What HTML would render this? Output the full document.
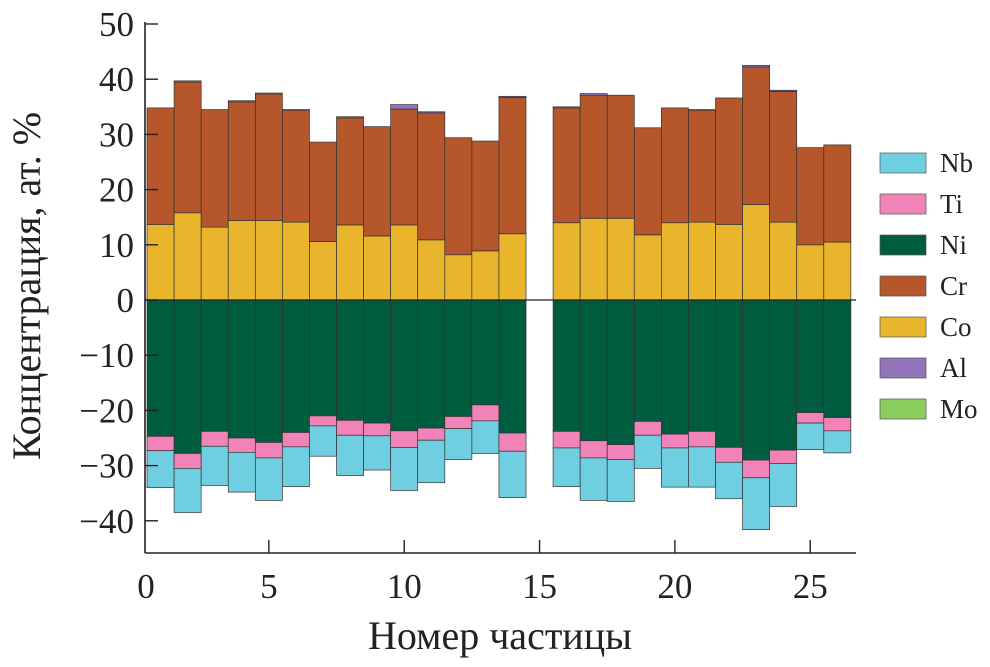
<!DOCTYPE html>
<html><head><meta charset="utf-8"><style>
body{margin:0;background:#fff}
svg text{font-family:"Liberation Serif",serif;fill:#222}
</style></head><body>
<svg id="c" width="990" height="662"></svg>
<script>
const particles=[1,2,3,4,5,6,7,8,9,10,11,12,13,14,16,17,18,19,20,21,22,23,24,25,26];
const co=[13.7,15.8,13.2,14.4,14.4,14.1,10.6,13.6,11.6,13.6,10.9,8.2,8.9,12,14,14.8,14.8,11.8,14,14.1,13.7,17.3,14.1,10,10.5];
const cr=[21.1,23.7,21.3,21.5,22.9,20.3,18,19.4,19.8,21,23,21.2,19.9,24.7,20.8,22.3,22.3,19.4,20.8,20.3,22.9,24.9,23.7,17.6,17.6];
const al=[0,0.2,0,0.2,0.2,0.1,0,0.2,0,0.8,0.2,0,0,0.2,0.2,0.3,0,0,0,0.1,0,0.3,0.2,0,0];
const ni=[24.7,27.8,23.8,25,25.8,24,21,21.8,22.3,23.7,23.2,21.1,19,24.1,23.8,25.5,26.2,22,24.3,23.8,26.7,29,27.2,20.4,21.3];
const ti=[2.6,2.7,2.7,2.6,2.8,2.6,1.8,2.7,2.3,3,2.2,2.2,2.9,3.3,3,3.1,2.7,2.5,2.5,2.8,2.7,3.2,2.4,1.9,2.4];
const nb=[6.7,8,7.1,7.2,7.7,7.2,5.5,7.3,6.2,7.8,7.7,5.6,5.9,8.4,7,7.7,7.6,6,7.1,7.3,6.6,9.4,7.8,4.8,4];
const yTicks=[50,40,30,20,10,0,-10,-20,-30,-40];
const xTicks=[0,5,10,15,20,25];
const legendNames=["Nb","Ti","Ni","Cr","Co","Al","Mo"];
const colors={Nb:"#6fcfe0",Ti:"#f283b8",Ni:"#005c3f",Cr:"#b5562b",Co:"#e9b52c",Al:"#9373b9",Mo:"#8ccd5f"};
const NS="http://www.w3.org/2000/svg";
const svg=document.getElementById('c');
const X=v=>133.5+v*27.07;
const Y=v=>300-v*5.52;
function el(t,a,p){const e=document.createElementNS(NS,t);for(const k in a)e.setAttribute(k,a[k]);(p||svg).appendChild(e);return e;}
function rect(k,y0,y1,c,name){
  const r=el('rect',{x:X(particles[k]-0.5),y:Math.min(Y(y0),Y(y1)),width:X(1)-X(0),height:Math.abs(Y(y0)-Y(y1)),fill:c,stroke:"#333","stroke-width":0.7});
  
  
}
particles.forEach((p,k)=>{
  rect(k,0,co[k],colors.Co,'bar-co-'+p);
  rect(k,co[k],co[k]+cr[k],colors.Cr,'bar-cr-'+p);
  if(al[k]>0)rect(k,co[k]+cr[k],co[k]+cr[k]+al[k],colors.Al,'bar-al-'+p);
  rect(k,0,-ni[k],colors.Ni,'bar-ni-'+p);
  rect(k,-ni[k],-ni[k]-ti[k],colors.Ti,'bar-ti-'+p);
  rect(k,-ni[k]-ti[k],-ni[k]-ti[k]-nb[k],colors.Nb,'bar-nb-'+p);
});
const ax=el('g',{});
el('line',{x1:145,y1:Y(50)-2,x2:145,y2:553,stroke:"#222","stroke-width":1.6},ax);
el('line',{x1:145,y1:553,x2:856,y2:553,stroke:"#222","stroke-width":1.6},ax);
el('line',{x1:145,y1:300,x2:856,y2:300,stroke:"#222","stroke-width":1.2},ax);
yTicks.forEach(t=>{
  el('line',{x1:145,y1:Y(t),x2:158,y2:Y(t),stroke:"#222","stroke-width":1.4},ax);
  const tx=el('text',{x:134,y:Y(t)+12,"text-anchor":"end","font-size":35},ax);tx.textContent=t<0?'\u2212'+(-t):t;
  
  
});
xTicks.forEach(t=>{
  if(t>0)el('line',{x1:X(t),y1:553,x2:X(t),y2:540,stroke:"#222","stroke-width":1.4},ax);
  const tx=el('text',{x:t===0?146:X(t),y:598,"text-anchor":"middle","font-size":35},ax);tx.textContent=t;
  
  
});
const xt=el('text',{x:500,y:649,"text-anchor":"middle","font-size":40});xt.textContent="Номер частицы";


const yt=el('text',{x:0,y:0,"text-anchor":"middle","font-size":40,transform:"translate(40,286) rotate(-90)"});yt.textContent="Концентрация, ат. %";


legendNames.forEach((n,i)=>{
  const g=el('g',{});
  
  
  const y=163+i*41;
  el('rect',{x:880,y:y-10,width:46,height:20,fill:colors[n],stroke:"#555","stroke-width":0.7},g);
  const t=el('text',{x:940,y:y+9,"font-size":27},g);t.textContent=n;
});
</script>
</body></html>
